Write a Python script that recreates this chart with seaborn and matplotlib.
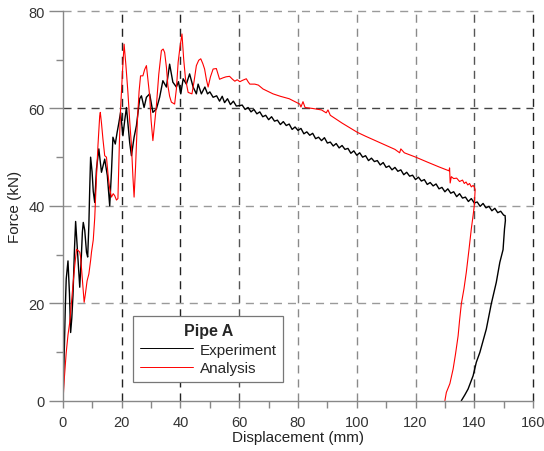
import numpy as np
import pandas as pd
import matplotlib
matplotlib.use("Agg")
import matplotlib.pyplot as plt
import seaborn as sns

# Force-displacement response of Pipe A
exp_disp = [
    0, 0.35, 0.8, 1.1, 1.7, 2.2, 2.6, 3.0, 3.4, 3.9, 4.3, 4.8, 5.3, 5.7, 6.2, 6.6, 6.9, 7.4,
    8.0, 8.4, 8.8, 9.1, 9.4, 9.9, 10.3, 10.8, 11.4, 12.2, 13.1, 14.2, 15.1, 15.9, 16.5, 17.0,
    17.8, 18.4, 19.0, 19.6, 20.4, 21.0, 21.6, 22.7, 23.3, 24.2, 25.0, 26.1, 26.7, 27.6, 28.4,
    29.5, 30.6, 31.8, 32.9, 34.0, 35.2, 36.3, 37.4, 38.6, 39.3, 40.1, 40.9, 42.0, 43.1, 44.3,
    45.4, 46.0, 47.1, 48.3, 49.2, 50.0, 51.1, 52.3, 53.3, 54.2, 55.0, 56.0, 57.0, 58.0, 59.0,
    60.2, 61, 62, 63, 64, 65, 66, 67, 68, 69, 70, 71, 72, 73, 74, 75, 76, 77, 78, 79, 80,
    81, 82, 83, 84, 85, 86, 87, 88, 89, 90, 91, 92, 93, 94, 95, 96, 97, 98, 99, 100,
    101, 102, 103, 104, 105, 106, 107, 108, 109, 110, 111, 112, 113, 114, 115, 116, 117, 118,
    119, 120, 121, 122, 123, 124, 125, 126, 127, 128, 129, 130, 131, 132, 133, 134, 135, 136,
    137, 138, 139, 140, 141, 142, 143, 144, 145, 146, 147, 148, 149, 150, 150.5,
    150.6, 150.3, 149.8, 148.7, 147.5, 145.8, 144.1, 141.9, 140.7, 139.6, 137.9, 136.8, 135.6,
]
exp_force = [
    0, 8.0, 19.5, 25.0, 28.7, 22.0, 14.0, 17.0, 21.6, 31.0, 36.8, 32.0, 27.0, 23.3, 29.0, 34.6,
    36.6, 35.0, 30.5, 29.5, 36.0, 43.5, 50.0, 47.0, 43.0, 40.7, 47.6, 51.7, 46.9, 49.6, 46.2,
    40.0, 47.0, 54.1, 52.7, 55.0, 57.0, 59.2, 54.4, 57.5, 60.2, 53.0, 50.3, 54.1, 56.5, 62.0,
    62.6, 60.2, 62.3, 63.0, 59.2, 59.9, 62.3, 65.7, 64.4, 69.1, 65.4, 64.4, 65.5, 63.0, 66.1,
    65.0, 67.1, 64.4, 63.0, 65.0, 63.0, 64.4, 63.0, 63.4, 62.3, 62.6, 61.5, 62.5, 61.2, 62.0,
    60.8, 61.5, 60.5, 60.6,
    60.7, 59.8, 60.2, 59.3, 59.8, 58.9, 59.3, 58.3, 58.6, 57.7, 58.3, 57.4, 57.6, 56.7, 57.3,
    56.5, 56.8, 55.7, 56.2, 55.5, 55.9, 54.8, 55.2, 54.5, 54.9, 53.8, 54.1, 53.4, 54.0, 52.9,
    53.1, 52.3, 52.8, 51.9, 52.4, 51.6, 51.8, 50.8, 51.3, 50.4, 50.9, 50.0, 50.3, 49.3, 49.8,
    49.1, 49.3, 48.4, 48.9, 47.9, 48.2, 47.4, 47.9, 47.1, 47.4, 46.4, 46.9, 46.1, 46.3, 45.4,
    45.9, 45.1, 45.4, 44.4, 44.8, 44.1, 44.5, 43.5, 43.8, 42.9, 43.5, 42.6, 42.9, 41.9, 42.5,
    41.6, 41.8, 40.9, 41.5, 40.6, 40.8, 39.9, 40.5, 39.6, 39.9, 39.0, 39.5, 38.6, 38.9, 38.1,
    38.0,
    37.0, 35.3, 31.0, 28.4, 24.3, 19.9, 14.7, 9.9, 7.9, 5.1, 2.4, 1.2, 0.0,
]

ana_disp = [
    0, 0.5, 1.1, 1.7, 2.3, 3.0, 3.5, 4.0, 4.6, 5.2, 5.7, 6.0, 6.5, 7.2, 7.6, 8.2, 8.8, 9.4,
    9.7, 10.3, 10.8, 11.4, 11.9, 12.5, 12.7, 13.1, 13.6, 14.2, 14.8, 15.4, 15.9, 16.5, 17.1,
    17.6, 18.2, 18.7, 19.2, 19.6, 20.2, 20.8, 21.4, 22.1, 22.7, 23.3, 23.8, 24.2, 24.7, 25.3,
    25.9, 26.4, 27.2, 27.8, 28.4, 29.0, 29.5, 30.0, 30.6, 31.2, 31.8, 32.6, 33.5, 34.1, 34.6,
    35.2, 35.7, 36.3, 36.9, 38.0, 38.6, 39.2, 39.8, 40.5, 41.1, 41.7, 42.6, 43.9, 44.6, 45.4,
    46.2, 46.9, 47.6, 48.2, 48.8, 49.4, 50.2, 51.1, 52.2, 52.8, 53.3, 54.5, 55.5, 56.7, 57.7,
    58.5, 59.3, 60.2, 61.2, 62.4, 63.0, 63.6, 65.3, 66.5, 68.1, 71.5, 74.0, 77.0, 80.6, 81.0,
    81.7, 82.4, 85.0, 88.0, 89.6, 90.2, 91.0, 95.0, 100.2, 103.0, 107.8, 110.0, 113.0, 114.6,
    115.0, 116.2, 120.1, 124.0, 128.0, 131.4, 131.6, 131.8, 132.2, 133.0, 134.0, 135.0, 136.0,
    136.6, 137.2, 137.8, 138.4, 139.0, 139.6, 140.0, 140.3,
    140.0, 139.6, 139.0, 138.2, 137.3, 136.5, 135.6, 135.0, 134.5, 133.6, 132.8, 131.7, 130.5,
    130.0,
]
ana_force = [
    0, 5.0, 9.9, 13.5, 16.1, 21.0, 24.5, 27.7, 31.1, 30.8, 30.5, 29.5, 25.5, 20.2, 21.8, 24.6,
    26.0, 28.8, 30.5, 33.0, 37.5, 46.0, 52.4, 58.5, 59.2, 57.0, 53.7, 50.3, 50.0, 46.0, 43.5,
    41.8, 42.5, 42.1, 41.2, 41.5, 53.0, 59.9, 67.0, 73.2, 69.0, 63.3, 57.5, 52.4, 46.0, 41.8,
    48.0, 57.2, 63.5, 66.7, 66.7, 68.0, 68.8, 65.5, 62.6, 57.5, 53.4, 57.0, 60.6, 67.0, 71.9,
    72.2, 71.5, 68.5, 64.7, 62.5, 61.3, 60.9, 64.0, 69.5, 72.5, 75.3, 70.0, 66.1, 63.3, 63.0,
    65.5, 68.8, 69.9, 70.2, 69.2, 68.1, 66.0, 64.4, 66.5, 68.1, 68.2, 67.0, 66.0, 66.3, 66.5,
    66.6, 66.0, 65.6, 65.9, 65.5, 65.8, 66.1, 65.5, 65.0, 65.0, 64.8, 64.0, 63.0, 62.5, 62.0,
    60.9, 60.3, 61.4, 60.2, 60.0, 59.7, 59.1, 59.7, 58.6, 57.0, 55.1, 54.3, 53.0, 52.4, 51.6,
    50.9, 51.7, 50.9, 50.0, 49.0, 48.0, 47.2, 47.8, 44.7, 46.0, 45.6, 45.7, 45.0, 45.3, 44.6,
    44.9, 44.3, 44.6, 43.9, 44.2, 43.9, 43.3,
    40.0, 38.0, 35.3, 31.0, 26.4, 23.0, 19.9, 16.5, 13.3, 9.5, 6.5, 3.5, 1.7,
    0.0,
]

series_colors = {"Experiment": "#000000", "Analysis": "#ff0000"}
legend_title = "Pipe A"
x_ticks = [0, 20, 40, 60, 80, 100, 120, 140, 160]
y_ticks = [0, 20, 40, 60, 80]

df = pd.concat([
    pd.DataFrame({"disp": exp_disp, "force": exp_force, "series": "Experiment"}),
    pd.DataFrame({"disp": ana_disp, "force": ana_force, "series": "Analysis"}),
], ignore_index=True)

sns.set_style("ticks")
plt.rcParams["font.family"] = ["Liberation Sans", "DejaVu Sans"]

fig = plt.figure(figsize=(5.44, 4.52), dpi=100)
ax = fig.add_axes([0.1158, 0.1113, 0.864, 0.862])

grid_dash = (5.8, 4.3)
dark_x = {20, 40, 160}
mid_x = {60, 140}
for xv in x_ticks[1:]:
    col = "#222222" if xv in dark_x else ("#555555" if xv in mid_x else "#8a8a8a")
    ax.axvline(xv, color=col, lw=1.0, dashes=grid_dash, zorder=0, clip_on=False)
for yv in y_ticks[1:]:
    col = "#444444" if yv == 60 else "#9a9a9a"
    ax.axhline(yv, color=col, lw=1.0, dashes=grid_dash, zorder=0, clip_on=False)

sns.lineplot(data=df[df.series == "Experiment"], x="disp", y="force", sort=False,
             estimator=None, color=series_colors["Experiment"], lw=1.0, ax=ax,
             label="Experiment", zorder=3)
sns.lineplot(data=df[df.series == "Analysis"], x="disp", y="force", sort=False,
             estimator=None, color=series_colors["Analysis"], lw=0.8, ax=ax,
             label="Analysis", zorder=4)

ax.set_xlim(0, 160)
ax.set_ylim(0, 80)
ax.set_xticks(x_ticks)
ax.set_yticks(y_ticks)
ax.set_xticks([10, 30, 50, 70, 90, 110, 130, 150], minor=True)
ax.set_yticks([10, 30, 50, 70], minor=True)

for side in ["top", "right"]:
    ax.spines[side].set_visible(False)
for side in ["left", "bottom"]:
    ax.spines[side].set_color("#888888")
    ax.spines[side].set_linewidth(1.0)
    ax.spines[side].set_zorder(5)

ax.tick_params(axis="y", which="major", length=10, width=1.0, color="#888888",
               labelsize=10.5, labelcolor="#333333", pad=3)
ax.tick_params(axis="y", which="minor", length=5, width=1.0, color="#888888")
ax.tick_params(axis="x", which="major", length=5, width=1.0, color="#888888",
               labelsize=10.5, labelcolor="#333333", pad=5)
ax.tick_params(axis="x", which="minor", length=5, width=1.0, color="#888888")

ax.set_xlabel("Displacement (mm)", fontsize=11, color="#222222", labelpad=1)
ax.set_ylabel("Force (kN)", fontsize=11, color="#222222", labelpad=5)

leg = ax.legend(title=legend_title, loc="upper left", bbox_to_anchor=(0.149, 0.217),
                borderaxespad=0, fontsize=11, title_fontproperties={"weight": "bold", "size": 11.5},
                handlelength=3.5, handletextpad=0.4, labelspacing=0.3,
                frameon=True, fancybox=False, edgecolor="#777777", framealpha=1,
                borderpad=0.45)
for h in leg.get_lines():
    h.set_linewidth(0.7)
leg.get_frame().set_linewidth(0.9)
leg.set_zorder(10)

fig.savefig("out.png", dpi=100)
